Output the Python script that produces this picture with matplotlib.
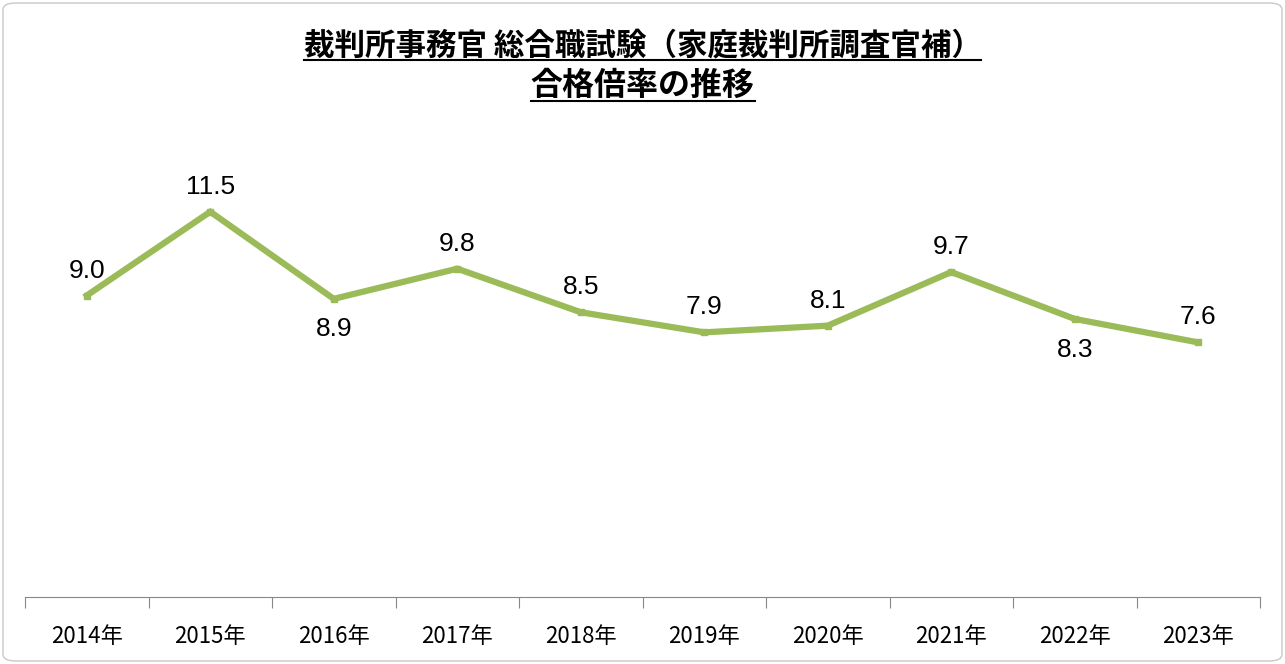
import matplotlib
matplotlib.use("Agg")
import matplotlib.pyplot as plt
from matplotlib.patches import FancyBboxPatch
from matplotlib.lines import Line2D

years = ["2014年","2015年","2016年","2017年","2018年","2019年","2020年","2021年","2022年","2023年"]
ratios = [9.0, 11.5, 8.9, 9.8, 8.5, 7.9, 8.1, 9.7, 8.3, 7.6]
below = [False, False, True, False, False, False, False, False, True, False]

plt.rcParams["font.family"] = ["Noto Sans CJK JP"]
W, H = 1285, 664
fig = plt.figure(figsize=(W/100, H/100), dpi=100)
fig.patches.append(FancyBboxPatch((3/W, 3/H), 1-6/W, 1-6/H, boxstyle="round,pad=0,rounding_size=0.01",
                                  transform=fig.transFigure, fill=False, ec="#c8c8c8", lw=1))
ax = fig.add_axes([25/W, 67/H, 1235/W, (597-128)/H])
x = list(range(len(years)))
ax.plot(x, ratios, color="#9BBB59", lw=4.5, marker="s", ms=5, mfc="#9BBB59", mec="#9BBB59", solid_joinstyle="miter")
for xi, v, b in zip(x, ratios, below):
    ax.annotate(f"{v:.1f}", (xi, v), xytext=(0, -22 if b else 18), textcoords="offset points",
                ha="center", va="center", fontsize=19, family="Liberation Sans")
ax.set_xlim(-0.5, len(years)-0.5)
ax.set_ylim(0, 14)
for s in ["top", "right", "left"]:
    ax.spines[s].set_visible(False)
ax.spines["bottom"].set_color("#888888")
ax.set_yticks([])
ax.set_xticks([i-0.5 for i in range(len(years)+1)], minor=False)
ax.set_xticklabels([])
ax.tick_params(axis="x", length=8, color="#888888", direction="out")
ax.set_xticks(x, minor=True)
ax.set_xticklabels(years, minor=True, fontsize=16)
ax.tick_params(axis="x", which="minor", length=0, pad=20)

t1 = fig.text(0.5, 1-45/H, "裁判所事務官 総合職試験（家庭裁判所調査官補）", ha="center", va="center", fontsize=22, weight="bold")
t2 = fig.text(0.5, 1-86/H, "合格倍率の推移", ha="center", va="center", fontsize=23, weight="bold")
fig.canvas.draw()
r = fig.canvas.get_renderer()
for t in (t1, t2):
    bb = t.get_window_extent(r)
    y = bb.y0 + 1
    fig.add_artist(Line2D([bb.x0/W, bb.x1/W], [y/H, y/H], color="black", lw=1.5, transform=fig.transFigure))
fig.savefig("out.png", dpi=100)
